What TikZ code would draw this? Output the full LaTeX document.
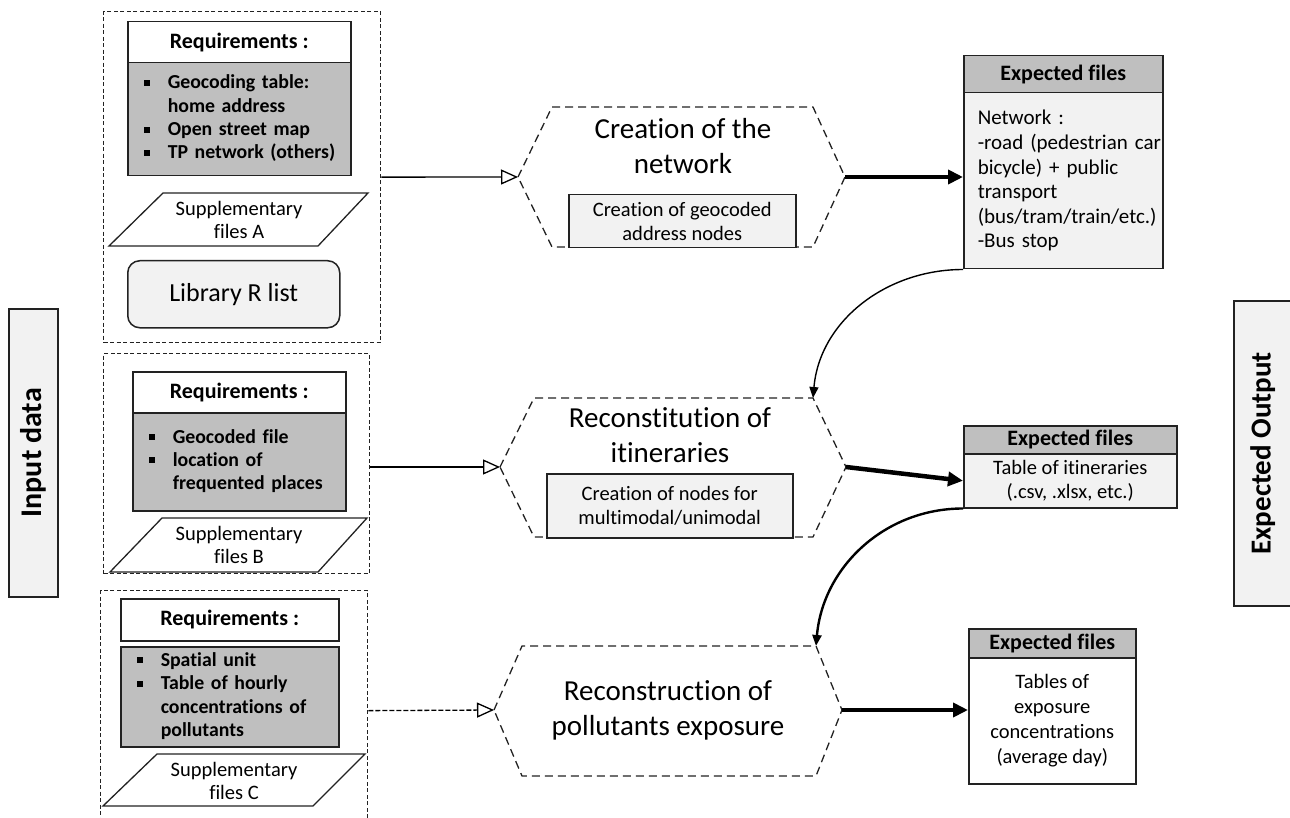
\documentclass[tikz,border=0pt]{standalone}
\usepackage{fontspec}
\setmainfont{Carlito}[Ligatures=CommonOff]
\usetikzlibrary{arrows.meta,positioning}

\definecolor{grigiochiaro}{HTML}{F2F2F2}
\definecolor{grigioscuro}{HTML}{BFBFBF}
\definecolor{bordo}{HTML}{222222}

\newcommand{\quadratino}{\rule[3pt]{6pt}{6pt}}

\tikzset{
  testo/.style={font=\fontsize{20.5}{23.5}\selectfont},
  grande/.style={font=\fontsize{29}{35}\selectfont, align=center},
  scatola/.style={draw=bordo, line width=1.5pt, anchor=north west, inner sep=0pt, align=center, testo},
  requisiti/.style={scatola, fill=white, font=\fontsize{22}{25}\selectfont\bfseries},
  elenco/.style={scatola, fill=grigioscuro, align=left, inner xsep=8pt, font=\fontsize{19.8}{23.3}\selectfont\bfseries},
  gruppo/.style={draw=bordo, line width=1.3pt, dash pattern=on 4pt off 2.5pt, anchor=north west, inner sep=0pt},
  parall/.style={draw=bordo, line width=1.3pt, fill=white},
  esagono/.style={draw=bordo, line width=1.3pt, dash pattern=on 8pt off 5pt},
  attivita/.style={scatola, fill=grigiochiaro},
  titolo/.style={scatola, fill=grigioscuro, font=\fontsize{22}{25}\selectfont\bfseries},
  corpo/.style={scatola, fill=grigiochiaro},
  lato/.style={draw=bordo, line width=1.5pt, fill=grigiochiaro, anchor=north west, inner sep=0pt},
  freccia/.style={line width=1.3pt, -{Triangle[open, length=17pt, width=15pt]}},
  spessa/.style={line width=4.5pt, -{Triangle[length=15pt, width=14pt]}},
  curva/.style={line width=1.4pt, -{Triangle[length=11pt, width=9pt]}},
}

\begin{document}
\begin{tikzpicture}[x=1pt,y=-1pt]
    \clip (0,0) rectangle (1290,818);
    % Etichette laterali
    \node[lato, minimum width=49pt, minimum height=288pt] (ingresso) at (8,308) {};
    \node[rotate=90, font=\fontsize{30}{36}\selectfont\bfseries] (ingressoT) at (ingresso.center) {Input data};
    \node[lato, minimum width=58pt, minimum height=305pt] (uscita) at (1233,300) {};
    \node[rotate=90, font=\fontsize{29}{36}\selectfont\bfseries] (uscitaT) at (uscita.center) {Expected Output};

    % Gruppo A
    \node[gruppo, minimum width=277pt, minimum height=331pt] (grpA) at (103,11) {};
    \node[requisiti, minimum width=223pt, minimum height=41pt] (reqA) at (127,21) {Requirements :};
    \node[elenco, text width=207pt, minimum height=113pt] (lstA) at (127,62) {%
        \begin{tabular}{@{\hspace{8pt}}l@{\hspace{18pt}}l@{}}
        \quadratino & Geocoding table:\\
                    & home address\\
        \quadratino & Open street map\\
        \quadratino & TP network (others)
        \end{tabular}};
    \draw[parall] (109,246) -- (163,193) -- (368,193) -- (318,246) -- cycle;
    \node[testo, align=center] (supA) at (239,220) {Supplementary\\files A};
    \node[scatola, fill=grigiochiaro, rounded corners=12pt, minimum width=212pt, minimum height=67pt,
          font=\fontsize{26}{30}\selectfont] (libR) at (127,260) {Library R list};

    % Gruppo B
    \node[gruppo, minimum width=266pt, minimum height=220pt] (grpB) at (103,353) {};
    \node[requisiti, minimum width=213pt, minimum height=41pt] (reqB) at (132,371) {Requirements :};
    \node[elenco, text width=197pt, minimum height=98pt] (lstB) at (132,412) {%
        \begin{tabular}{@{\hspace{8pt}}l@{\hspace{18pt}}l@{}}
        \quadratino & Geocoded file\\
        \quadratino & location of\\
                    & frequented places
        \end{tabular}};
    \draw[parall] (110,572) -- (162,518) -- (367,518) -- (318,572) -- cycle;
    \node[testo, align=center] (supB) at (239,545) {Supplementary\\files B};

    % Gruppo C
    \node[gruppo, minimum width=267pt, minimum height=240pt] (grpC) at (100,590) {};
    \node[requisiti, minimum width=218pt, minimum height=42pt] (reqC) at (120,598) {Requirements :};
    \node[elenco, text width=202pt, minimum height=100pt] (lstC) at (120,646) {%
        \begin{tabular}{@{\hspace{8pt}}l@{\hspace{18pt}}l@{}}
        \quadratino & Spatial unit\\
        \quadratino & Table of hourly\\
                    & concentrations of\\
                    & pollutants
        \end{tabular}};
    \draw[parall] (103,806) -- (157,754) -- (365,754) -- (313,806) -- cycle;
    \node[testo, align=center] (supC) at (234,781) {Supplementary\\files C};

    % Esagono A
    \coordinate (esaAsx) at (518,177);
    \coordinate (esaAdx) at (845,177);
    \draw[esagono] (esaAsx) -- (552,107) -- (813,107) -- (esaAdx) -- (813,247) -- (552,247) -- cycle;
    \node[grande] (creaRete) at (683,146) {Creation of the\\network};
    \node[attivita, minimum width=227pt, minimum height=53pt] (nodiA) at (568,194) {Creation of geocoded\\address nodes};

    % Esagono B
    \coordinate (esaBsx) at (500,467);
    \coordinate (esaBdx) at (846,467);
    \coordinate (esaBne) at (813,398);
    \draw[esagono] (esaBsx) -- (534,398) -- (esaBne) -- (esaBdx) -- (813,537) -- (534,537) -- cycle;
    \node[grande] (itinerari) at (670,435) {Reconstitution of\\itineraries};
    \node[attivita, minimum width=246pt, minimum height=64pt] (nodiB) at (546,473) {Creation of nodes for\\multimodal/unimodal};

    % Esagono C
    \coordinate (esaCsx) at (494,710);
    \coordinate (esaCdx) at (842,710);
    \coordinate (esaCne) at (816,646);
    \draw[esagono] (esaCsx) -- (522,646) -- (esaCne) -- (esaCdx) -- (816,776) -- (522,776) -- cycle;
    \node[grande] (esposizione) at (668,710) {Reconstruction of\\pollutants exposure};

    % Risultati attesi
    \node[titolo, minimum width=199pt, minimum height=37pt] (titA) at (963,55) {Expected files};
    \node[corpo, text width=171pt, inner xsep=14pt, align=left, minimum height=176pt,
          font=\fontsize{21}{24.6}\selectfont] (bxA) at (963,92)
          {Network :\\\mbox{-road (pedestrian car}\\bicycle) + public\\transport\\\mbox{(bus/tram/train/etc.)}\\-Bus stop};
    \node[titolo, minimum width=213pt, minimum height=28pt] (titB) at (963,425) {Expected files};
    \node[corpo, minimum width=213pt, minimum height=54pt] (bxB) at (963,453) {Table of itineraries\\(.csv, .xlsx, etc.)};
    \node[titolo, minimum width=167pt, minimum height=29pt] (titC) at (968,628) {Expected files};
    \node[corpo, fill=white, minimum width=167pt, minimum height=126pt,
          font=\fontsize{20.5}{25}\selectfont] (bxC) at (968,657) {Tables of\\exposure\\concentrations\\(average day)};

    % Collegamenti
    \draw[freccia] (grpA.east) -- (esaAsx);
    \draw[freccia] (grpB.east |- esaBsx) -- (esaBsx);
    \draw[freccia, dash pattern=on 5pt off 2pt] (grpC.east) -- (esaCsx);
    \draw[spessa] (esaAdx) -- (esaAdx -| bxA.west);
    \draw[spessa] (esaBdx) -- (bxB.west);
    \draw[spessa] (esaCdx) -- (esaCdx -| bxC.west);
    \draw[curva] (bxA.south west) to[out=180, in=85] (esaBne);
    \draw[curva, line width=2.4pt] (bxB.south west) to[out=180, in=85] (esaCne);
\end{tikzpicture}
\end{document}
